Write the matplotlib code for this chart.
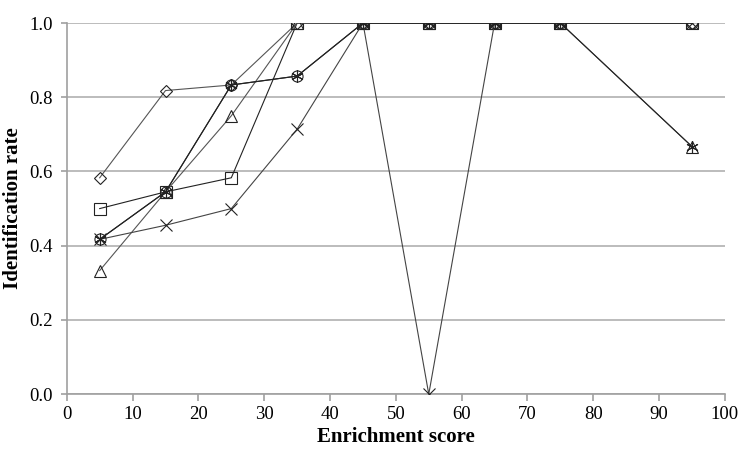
import matplotlib.pyplot as plt

# Data
scores = [5, 15, 25, 35, 45, 55, 65, 75, 95]
diamond = [0.583, 0.818, 0.833, 1.0, 1.0, 1.0, 1.0, 1.0, 1.0]
square = [0.5, 0.545, 0.583, 1.0, 1.0, 1.0, 1.0, 1.0, 1.0]
triangle = [0.333, 0.545, 0.75, 1.0, 1.0, 1.0, 1.0, 1.0, 0.667]
cross = [0.417, 0.455, 0.5, 0.714, 1.0, 0.0, 1.0, 1.0, 1.0]
star = [0.417, 0.545, 0.833, 0.857, 1.0, 1.0, 1.0, 1.0, 0.667]
circle = [0.417, 0.545, 0.833, 0.857, 1.0, 1.0, 1.0, 1.0, 1.0]

plt.rcParams['font.family'] = ['Liberation Serif', 'DejaVu Serif']

fig = plt.figure(figsize=(7.42, 4.51), dpi=100)
ax = fig.add_axes([0.090, 0.126, 0.887, 0.823])

series = [
    (diamond, 'D', 6, '#555555'),
    (square, 's', 8, '#222222'),
    (triangle, '^', 8, '#555555'),
    (cross, 'x', 8, '#444444'),
    (star, (6, 2, 0), 9, '#222222'),
    (circle, 'o', 8, '#222222'),
]
for vals, mk, ms, col in series:
    ax.plot(scores, vals, color=col, linewidth=0.8, marker=mk, markersize=ms,
            markerfacecolor='none', markeredgecolor='#222222',
            markeredgewidth=0.8, zorder=3)

ax.set_xlim(0, 100)
ax.set_ylim(0, 1.0)
ax.set_xticks(range(0, 101, 10))
ax.set_yticks([0.0, 0.2, 0.4, 0.6, 0.8, 1.0])
ax.set_yticklabels(['0.0', '0.2', '0.4', '0.6', '0.8', '1.0'])
ax.yaxis.grid(True, color='#b0b0b0', linewidth=1.2)
ax.set_axisbelow(True)
for s in ['top', 'right']:
    ax.spines[s].set_visible(False)
for s in ['left', 'bottom']:
    ax.spines[s].set_color('#a0a0a0')
    ax.spines[s].set_linewidth(1.2)
ax.tick_params(axis='both', colors='#a0a0a0', labelcolor='black',
               labelsize=13.5, length=5, width=1.2)
ax.tick_params(axis='y', length=4, pad=6)
ax.set_xlabel('Enrichment score', fontsize=15, fontweight='bold', labelpad=3)
ax.set_ylabel('Identification rate', fontsize=15, fontweight='bold')
ax.yaxis.set_label_coords(-0.066, 0.5)

fig.savefig('out.png', dpi=100)
